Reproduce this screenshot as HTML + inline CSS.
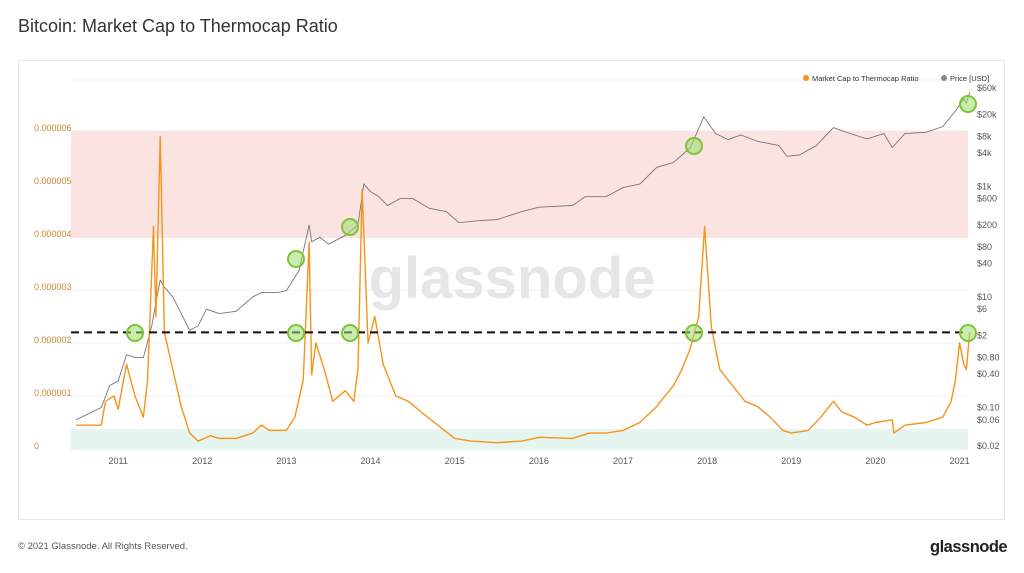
<!DOCTYPE html>
<html><head><meta charset="utf-8"><style>
body{margin:0;width:1024px;height:573px;background:#fff;font-family:"Liberation Sans",sans-serif;position:relative;overflow:hidden}
#title{position:absolute;left:18px;top:16px;font-size:18px;color:#333}
#card{position:absolute;left:18px;top:60px;width:987px;height:460px;border:1px solid #e6e6e6;box-sizing:border-box}
#foot{position:absolute;left:18px;top:541px;font-size:9.5px;color:#555}
#brand{position:absolute;left:930px;top:538px;font-size:16.5px;font-weight:bold;color:#222;letter-spacing:-0.5px}
svg{position:absolute;left:0;top:0}
</style></head><body>
<div id="title">Bitcoin: Market Cap to Thermocap Ratio</div>
<div id="card"></div>
<svg id="chart" width="1024" height="573"></svg>
<div id="foot">© 2021 Glassnode. All Rights Reserved.</div>
<div id="brand">glassnode</div>
<script>
const ratioDates=[2010.5,2010.8,2010.85,2010.95,2011.0,2011.1,2011.2,2011.3,2011.35,2011.42,2011.45,2011.5,2011.55,2011.65,2011.75,2011.85,2011.95,2012.1,2012.2,2012.4,2012.6,2012.7,2012.8,2013.0,2013.1,2013.2,2013.27,2013.3,2013.35,2013.45,2013.55,2013.7,2013.8,2013.85,2013.9,2013.97,2014.05,2014.15,2014.3,2014.45,2014.6,2014.8,2015.0,2015.2,2015.5,2015.8,2016.0,2016.4,2016.6,2016.8,2017.0,2017.2,2017.4,2017.6,2017.7,2017.8,2017.9,2017.97,2018.05,2018.15,2018.3,2018.45,2018.6,2018.75,2018.9,2019.0,2019.2,2019.35,2019.5,2019.6,2019.75,2019.9,2020.0,2020.2,2020.22,2020.35,2020.6,2020.8,2020.9,2020.95,2021.0,2021.05,2021.08,2021.12];
const ratioValues=[0.45,0.45,0.9,1.0,0.75,1.6,1.0,0.6,1.3,4.2,2.5,5.9,2.2,1.5,0.8,0.3,0.15,0.25,0.2,0.2,0.3,0.45,0.35,0.35,0.6,1.3,3.9,1.4,2.0,1.5,0.9,1.1,0.9,1.5,4.9,2.0,2.5,1.6,1.0,0.9,0.7,0.45,0.2,0.15,0.12,0.15,0.22,0.2,0.3,0.3,0.35,0.5,0.8,1.2,1.5,1.9,2.5,4.2,2.3,1.5,1.2,0.9,0.8,0.6,0.35,0.3,0.35,0.6,0.9,0.7,0.6,0.45,0.5,0.55,0.3,0.45,0.5,0.6,0.9,1.3,2.0,1.6,1.5,2.2];
const priceDates=[2010.5,2010.8,2010.9,2011.0,2011.1,2011.2,2011.3,2011.4,2011.45,2011.5,2011.55,2011.65,2011.75,2011.85,2011.95,2012.05,2012.2,2012.4,2012.6,2012.7,2012.9,2013.0,2013.15,2013.27,2013.3,2013.4,2013.5,2013.7,2013.85,2013.92,2014.0,2014.1,2014.2,2014.35,2014.5,2014.7,2014.9,2015.05,2015.3,2015.5,2015.8,2016.0,2016.4,2016.55,2016.8,2017.0,2017.2,2017.4,2017.6,2017.8,2017.96,2018.1,2018.25,2018.4,2018.6,2018.85,2018.95,2019.1,2019.3,2019.5,2019.7,2019.9,2020.1,2020.2,2020.35,2020.6,2020.8,2020.95,2021.05,2021.08,2021.12];
const priceValues=[0.06,0.1,0.25,0.3,0.9,0.8,0.8,3,8,20,15,10,5,2.5,3,6,5,5.5,10,12,12,13,30,200,100,120,90,130,200,1100,800,650,450,600,600,400,350,220,240,250,350,420,450,650,650,950,1100,2200,2700,5000,18000,9000,7000,8500,6500,5500,3500,3700,5500,11500,9000,7200,9000,5000,9000,9500,12000,23000,38000,32000,50000];
const leftTicks=[0,1,2,3,4,5,6];
const leftTickLabels=["0","0.000001","0.000002","0.000003","0.000004","0.000005","0.000006"];
const rightTicks=[60000,20000,8000,4000,1000,600,200,80,40,10,6,2,0.8,0.4,0.1,0.06,0.02];
const rightTickLabels=["$60k","$20k","$8k","$4k","$1k","$600","$200","$80","$40","$10","$6","$2","$0.80","$0.40","$0.10","$0.06","$0.02"];
const years=[2011,2012,2013,2014,2015,2016,2017,2018,2019,2020,2021];
const threshold=2.2;
const bands=[[4,6],[0,0.38]];

const X0=71,X1=968,D0=2010.44,D1=2021.1;
const x=d=>X0+(d-D0)/(D1-D0)*(X1-X0);
const yL=v=>449-v*53;
const yR=p=>88+(Math.log10(60000)-Math.log10(p))*55.3;
const svg=document.getElementById('chart');
const NS='http://www.w3.org/2000/svg';
function mk(t,a){const e=document.createElementNS(NS,t);for(const k in a)e.setAttribute(k,a[k]);svg.appendChild(e);return e;}

leftTicks.forEach((v,i)=>{
 const g=mk('line',{x1:X0,x2:X1,y1:yL(v),y2:yL(v),stroke:'#f0f0f0'});
 
 
 const t=mk('text',{x:34,y:yL(v)-0,'font-size':9,fill:'#c8862a'});
 t.textContent=leftTickLabels[i];
 
 
});
mk('line',{x1:X0,x2:X1,y1:80,y2:80,stroke:'#f0f0f0'});
const bandColors=['#fbe3e1','#e6f5ef'];
bands.forEach((b,i)=>{
 const r=mk('rect',{x:X0,width:X1-X0,y:yL(b[1]),height:yL(b[0])-yL(b[1])+1,fill:bandColors[i]});
 
 
});
const wm=mk('text',{x:512,y:298,'font-size':58,'font-weight':'bold',fill:'#e6e6e6','text-anchor':'middle'});
wm.textContent='glassnode';


rightTicks.forEach((p,i)=>{
 const t=mk('text',{x:977,y:yR(p)+3,'font-size':9,fill:'#555'});
 t.textContent=rightTickLabels[i];
 
 
});
years.forEach(yr=>{
 const t=mk('text',{x:x(yr),y:464,'font-size':9,fill:'#555','text-anchor':'middle'});
 t.textContent=yr;
 
 
});
const pp=mk('polyline',{points:priceDates.map((d,i)=>x(d)+','+yR(priceValues[i])).join(' '),fill:'none',stroke:'#777','stroke-width':0.9});


const rp=mk('polyline',{points:ratioDates.map((d,i)=>x(d)+','+yL(ratioValues[i])).join(' '),fill:'none',stroke:'#f7931a','stroke-width':1.4,'stroke-linejoin':'round'});


const th=mk('line',{x1:X0,x2:X1,y1:yL(threshold),y2:yL(threshold),stroke:'#111','stroke-width':2,'stroke-dasharray':'8,5'});


const circles=[[135,333],[296,259],[296,333],[350,227],[350,333],[694,146],[694,333],[968,104],[968,333]];
circles.forEach(c=>{
 const e=mk('circle',{cx:c[0],cy:c[1],r:8,fill:'rgba(160,220,110,0.55)',stroke:'#7cc43a','stroke-width':2});
 
 
});
const l1=mk('circle',{cx:806,cy:78,r:3,fill:'#f7931a'});


const lt1=mk('text',{x:812,y:81,'font-size':7.5,fill:'#333'});lt1.textContent='Market Cap to Thermocap Ratio';


const l2=mk('circle',{cx:944,cy:78,r:3,fill:'#888'});


const lt2=mk('text',{x:950,y:81,'font-size':7.5,fill:'#333'});lt2.textContent='Price [USD]';


</script>
</body></html>
